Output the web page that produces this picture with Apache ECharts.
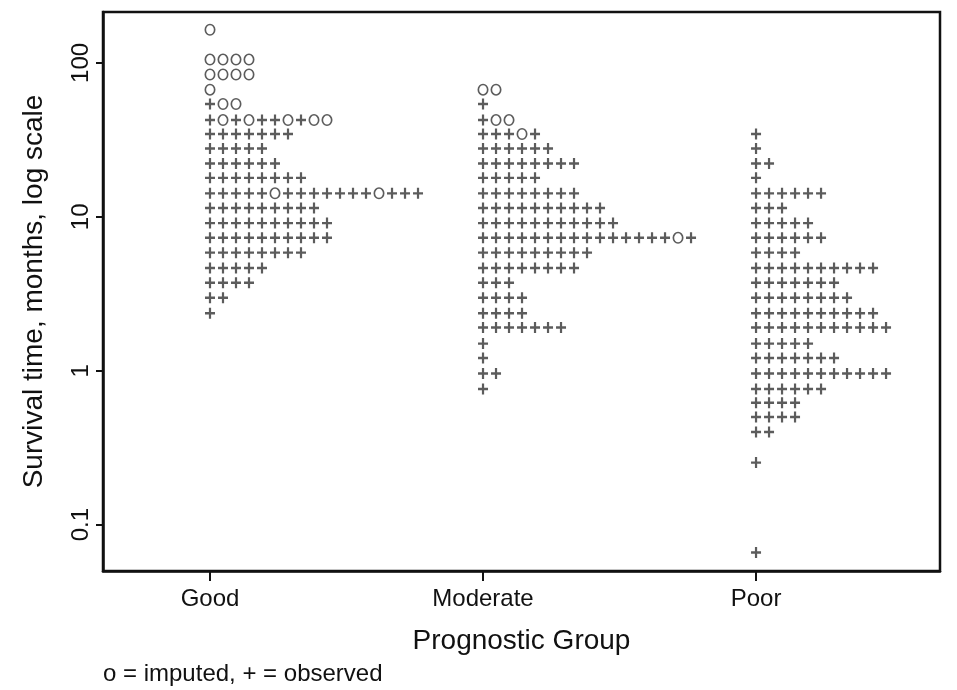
<!DOCTYPE html>
<html><head><meta charset="utf-8">
<script src="https://cdn.jsdelivr.net/npm/echarts@6/dist/echarts.min.js"></script>
<style>html,body{margin:0;padding:0;background:#fff}#c{width:957px;height:690px}</style>
</head><body><div id="c"></div>
<script>
// ---- data ----
const groups = ['Good', 'Moderate', 'Poor'];
const yTicks = [0.1, 1, 10, 100];

// survival time of each row (months) and the marks in that row ('o' = imputed, '+' = observed)
const goodTimes = [164, 105, 84, 67, 54, 42.5, 34.5, 27.8, 22.2, 17.9, 14.2, 11.4, 9.1, 7.3, 5.85, 4.65, 3.73, 2.98, 2.36];
const goodMarks = ['o', 'oooo', 'oooo', 'o', '+oo', '+o+o++o+oo', '+++++++', '+++++', '++++++', '++++++++',
  '+++++o+++++++o+++', '+++++++++', '++++++++++', '++++++++++', '++++++++', '+++++', '++++', '++', '+'];

const moderateTimes = [67, 54, 42.5, 34.5, 27.8, 22.2, 17.9, 14.2, 11.4, 9.1, 7.3, 5.85, 4.65, 3.73, 2.98, 2.36, 1.91, 1.50, 1.21, 0.96, 0.76];
const moderateMarks = ['oo', '+', '+oo', '+++o+', '++++++', '++++++++', '+++++', '++++++++', '++++++++++', '+++++++++++',
  '+++++++++++++++o+', '+++++++++', '++++++++', '+++', '++++', '++++', '+++++++', '+', '+', '++', '+'];

const poorTimes = [34.5, 27.8, 22.2, 17.9, 14.2, 11.4, 9.1, 7.3, 5.85, 4.65, 3.73, 2.98, 2.36, 1.91, 1.50, 1.21, 0.96, 0.76, 0.62, 0.50, 0.40, 0.253, 0.066];
const poorMarks = ['+', '+', '++', '+', '++++++', '+++', '+++++', '++++++', '++++', '++++++++++', '+++++++', '++++++++',
  '++++++++++', '+++++++++++', '+++++', '+++++++', '+++++++++++', '++++++', '++++', '++++', '++', '+', '+'];

// ---- build ----
const SLOT = 21; // horizontal slots between group centres (one slot per mark)
const imputed = [], observed = [];
function build(times, marks, gi) {
  times.forEach((t, r) => {
    const s = marks[r];
    for (let k = 0; k < s.length; k++) {
      const pt = [gi * SLOT + k, t];
      if (s[k] === 'o') imputed.push(pt); else observed.push(pt);
    }
  });
}
build(goodTimes, goodMarks, 0);
build(moderateTimes, moderateMarks, 1);
build(poorTimes, poorMarks, 2);

const FONT = '"Liberation Sans", Arial, Helvetica, sans-serif';
const INK = '#111';
const MARK = '#333';
const chart = echarts.init(document.getElementById('c'), null, { renderer: 'canvas' });
chart.setOption({
  animation: false,
  backgroundColor: '#fff',
  grid: { left: 103, right: 17, top: 12, bottom: 119, show: true, borderColor: INK, borderWidth: 2.5, containLabel: false, outerBoundsMode: 'none' },
  xAxis: {
    type: 'value', min: -8.23, max: 56.15,
    splitLine: { show: false },
    axisLine: { show: true, onZero: false, lineStyle: { color: INK, width: 2.5 } },
    axisTick: { show: true, length: 10, customValues: groups.map((g, i) => i * SLOT), lineStyle: { color: INK, width: 2 } },
    axisLabel: { customValues: groups.map((g, i) => i * SLOT), formatter: v => groups[Math.round(v / SLOT)], color: '#111', fontFamily: FONT, fontSize: 24, margin: 16 },
    name: 'Prognostic Group', nameLocation: 'middle', nameGap: 56,
    nameTextStyle: { color: '#111', fontFamily: FONT, fontSize: 28 }
  },
  yAxis: {
    type: 'log', logBase: 10, min: 0.05, max: 214,
    splitLine: { show: false }, minorTick: { show: false },
    axisLine: { show: true, onZero: false, lineStyle: { color: INK, width: 2.5 } },
    axisTick: { show: true, length: 7, customValues: yTicks, lineStyle: { color: INK, width: 2 } },
    axisLabel: { customValues: yTicks, rotate: 90, formatter: v => String(v), color: '#111', fontFamily: FONT, fontSize: 24, margin: 10 },
    name: 'Survival time, months, log scale', nameLocation: 'middle', nameGap: 55,
    nameTextStyle: { color: '#111', fontFamily: FONT, fontSize: 28 }
  },
  series: [
    { name: 'observed', type: 'scatter', data: observed,
      symbol: 'path://M3.9,0H6.1V3.9H10V6.1H6.1V10H3.9V6.1H0V3.9H3.9Z', symbolSize: [10, 11],
      itemStyle: { color: MARK } },
    { name: 'imputed', type: 'scatter', data: imputed,
      symbol: 'path://M5,0A5,6 0 1,0 5,12A5,6 0 1,0 5,0ZM5,1.5A3.5,4.5 0 1,1 5,10.5A3.5,4.5 0 1,1 5,1.5Z', symbolSize: [11, 12],
      itemStyle: { color: MARK } }
  ],
  graphic: [
    { type: 'text', left: 103, top: 662, style: { text: 'o = imputed, + = observed', fill: '#111', font: '24px ' + FONT } }
  ]
});
</script>
</body></html>
